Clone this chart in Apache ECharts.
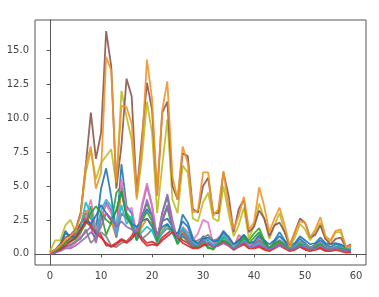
<!DOCTYPE html>
<html><head><meta charset="utf-8">
<script src="https://cdn.jsdelivr.net/npm/echarts@6/dist/echarts.min.js"></script>
<style>html,body{margin:0;padding:0;background:#fff}#c{width:379px;height:297px}</style>
</head><body><div id="c"></div>
<script>
const xTicks = [0,10,20,30,40,50,60];
const yTicks = [0,2.5,5,7.5,10,12.5,15];

const smallBlue1 = [0.1,0.3,0.6,1.7,1.2,1.5,2.2,3.0,2.6,1.8,4.8,6.3,4.2,1.6,6.6,3.5,3.0,1.5,2.7,3.3,2.8,1.2,2.4,2.6,2.0,1.1,2.9,2.3,1.2,0.6,1.3,1.0,0.6,1.0,1.5,1.0,0.4,0.9,1.2,0.5,0.8,1.2,0.9,0.4,0.9,1.3,0.9,0.4,0.7,1.1,0.8,0.4,0.7,1.0,0.7,0.5,0.7,0.6,0.4,0.5];
const smallOrange = [0.1,0.2,0.5,0.9,1.1,1.5,2.2,3.2,2.8,1.4,2.6,3.0,2.4,1.2,4.8,2.6,2.4,1.0,2.0,2.6,2.2,0.9,1.8,2.1,1.6,0.9,1.6,1.2,0.8,0.6,1.2,1.0,0.5,0.9,1.2,0.9,0.4,1.4,1.1,0.5,0.8,1.0,0.7,0.4,0.7,0.9,0.6,0.3,0.5,0.8,0.6,0.4,0.6,0.7,0.5,0.3,0.5,0.4,0.3,0.4];
const smallGreen1 = [0.1,0.2,0.5,0.9,1.0,1.3,1.8,2.4,3.5,1.8,3.0,2.5,2.2,4.5,5.0,3.0,2.5,1.2,2.8,3.7,2.8,1.0,3.0,4.2,2.0,0.8,1.5,1.0,0.7,0.5,1.0,0.5,0.3,0.8,1.2,1.0,0.4,0.8,1.4,1.0,1.5,1.9,1.0,0.4,0.8,1.0,0.7,0.3,0.5,0.8,0.6,0.3,0.6,0.8,0.5,0.3,0.5,0.5,0.3,0.4];
const smallRed1 = [0.1,0.2,0.4,0.8,1.2,1.6,2.2,2.7,2.2,1.7,1.4,0.6,0.6,0.8,1.1,0.9,1.3,2.0,1.2,0.8,0.9,0.7,1.2,1.5,1.8,1.4,1.0,0.8,0.5,0.5,0.7,0.8,0.6,0.7,0.9,0.7,0.4,0.6,0.8,0.5,0.5,0.6,0.4,0.3,0.5,0.7,0.5,0.3,0.4,0.6,0.4,0.3,0.4,0.5,0.3,0.3,0.4,0.3,0.2,0.2];
const smallPurple1 = [0.0,0.1,0.3,0.5,0.6,0.9,1.2,1.6,2.0,0.8,2.5,3.8,3.2,1.2,3.0,2.6,2.2,1.0,3.4,5.0,3.5,1.0,3.0,4.4,2.5,1.0,1.8,1.2,0.8,0.5,1.2,0.9,0.5,0.8,1.0,0.8,0.4,0.8,1.1,0.5,0.7,0.9,0.6,0.3,0.6,0.8,0.6,0.3,0.5,0.7,0.6,0.3,0.5,0.7,0.5,0.3,0.5,0.4,0.3,0.4];
const smallPink = [0.0,0.1,0.3,0.6,0.5,0.8,1.5,2.6,4.0,1.8,2.8,3.6,3.0,1.4,5.5,3.2,3.4,1.4,3.6,5.2,3.6,1.2,2.6,3.5,2.2,1.0,2.0,1.6,1.0,1.5,2.5,2.3,0.7,1.2,1.4,1.0,0.5,1.3,1.2,0.6,0.9,1.1,0.7,0.4,0.7,0.9,0.6,0.3,0.6,0.8,0.6,0.4,0.6,0.8,0.5,0.3,0.5,0.5,0.3,0.4];
const smallGray = [0.1,0.2,0.3,0.5,0.7,0.9,1.1,1.8,0.8,1.2,1.6,1.3,0.6,0.5,0.8,0.9,1.2,1.5,1.1,1.4,1.8,1.0,1.5,1.9,1.6,1.4,1.8,1.3,0.8,1.0,1.2,1.4,1.0,1.1,1.6,1.3,0.7,1.0,1.3,0.8,0.8,1.0,0.7,0.5,0.7,1.0,0.7,0.4,0.6,0.9,0.7,0.5,0.6,0.8,0.6,0.4,0.5,0.6,0.3,0.6];
const smallCyan = [0.1,0.2,0.4,0.8,1.0,1.4,2.0,3.8,3.0,1.2,3.2,4.0,3.5,1.4,3.6,2.2,2.8,1.0,1.6,2.0,1.7,0.8,1.6,2.2,1.5,0.8,1.9,1.5,0.9,0.5,0.9,1.0,0.6,0.9,1.3,0.9,0.4,0.8,1.0,0.5,0.6,0.8,0.6,0.3,0.6,0.9,0.6,0.3,0.5,0.8,0.6,0.3,0.5,0.7,0.5,0.3,0.5,0.5,0.3,0.4];
const smallBlue2 = [0.1,0.3,0.7,1.5,1.3,1.2,1.8,2.5,2.2,2.8,3.6,3.0,2.5,3.2,4.6,2.8,2.2,2.0,2.4,2.6,2.0,1.5,2.0,2.2,1.7,1.5,2.4,2.0,1.0,0.8,1.1,1.2,0.9,1.0,1.7,1.2,0.7,1.0,1.4,0.8,0.9,1.4,1.0,0.7,1.0,1.6,1.0,0.6,0.8,1.3,1.0,0.7,0.8,1.2,0.8,0.7,0.8,0.7,0.5,0.6];
const smallGreen2 = [0.0,0.2,0.4,0.8,0.9,1.1,1.6,2.2,3.0,3.5,3.0,1.4,2.3,3.2,4.6,2.8,2.0,1.0,2.4,3.1,2.4,0.9,2.4,3.4,1.8,0.7,1.3,0.9,0.6,0.5,0.9,0.4,0.4,0.7,1.0,0.8,0.3,0.7,1.2,0.8,1.2,1.6,0.8,0.4,0.7,0.9,0.6,0.3,0.4,0.7,0.5,0.3,0.5,0.7,0.4,0.3,0.4,0.4,0.3,0.3];
const smallRed2 = [0.0,0.1,0.3,0.6,0.9,1.2,1.8,2.4,2.0,1.5,1.2,0.8,0.5,0.7,1.0,0.8,1.1,1.6,1.0,0.6,0.7,0.6,1.0,1.3,1.6,1.2,0.8,0.6,0.4,0.4,0.6,0.7,0.5,0.6,0.8,0.6,0.3,0.5,0.7,0.4,0.4,0.5,0.3,0.2,0.4,0.6,0.4,0.2,0.3,0.5,0.3,0.2,0.3,0.4,0.2,0.2,0.3,0.2,0.1,0.1];
const smallPurple2 = [0.0,0.1,0.2,0.4,0.4,0.6,0.9,1.2,1.6,1.2,2.0,3.0,2.6,2.0,2.4,2.0,1.8,1.6,2.6,4.0,2.8,1.3,2.4,3.6,2.0,1.2,1.4,1.0,0.6,0.6,1.0,0.7,0.5,0.6,0.8,0.6,0.4,0.6,0.9,0.5,0.5,0.7,0.5,0.3,0.5,0.6,0.5,0.3,0.4,0.6,0.5,0.3,0.4,0.6,0.4,0.3,0.4,0.3,0.2,0.3];

const bigOlive = [0.2,1.0,1.0,2.1,2.5,1.6,3.0,6.0,7.6,5.5,6.7,7.2,7.7,5.0,12.0,10.1,8.4,4.0,7.0,11.2,8.9,3.0,6.5,9.9,4.0,3.0,6.5,6.0,2.6,2.4,3.8,4.5,2.6,2.4,5.0,3.0,1.3,2.1,3.4,1.1,2.1,3.7,2.6,1.1,2.1,3.0,1.6,0.5,1.2,2.2,1.8,1.0,1.6,2.3,1.1,0.9,1.6,1.6,0.5,0.5];
const bigBrown = [0.1,0.3,0.7,1.2,1.4,1.8,3.0,6.5,10.4,7.0,8.9,16.4,13.8,4.8,8.0,12.9,11.6,4.5,8.5,12.6,10.6,4.3,10.4,11.2,5.0,4.0,7.4,7.2,3.3,3.05,5.0,5.6,3.0,3.0,6.0,4.3,1.6,3.3,4.0,1.6,2.0,3.2,2.6,1.3,2.1,2.3,1.6,0.6,1.6,2.6,2.3,1.2,1.4,2.1,1.1,0.7,1.1,1.2,0.5,0.7];
const bigOrange = [0.1,0.3,0.6,1.0,1.3,1.7,2.8,6.5,7.9,4.8,6.0,14.5,13.5,5.2,10.9,10.8,9.6,4.2,7.8,14.3,11.4,4.3,10.6,12.7,5.7,4.0,7.9,6.7,3.05,3.2,6.0,6.0,2.8,3.3,6.1,3.5,1.8,2.8,4.2,1.8,2.3,4.9,3.5,1.6,2.6,3.4,2.1,0.6,1.6,2.4,2.3,1.2,1.8,2.7,1.3,1.0,1.7,1.8,0.5,0.6];

const seriesDefs = [
  [smallBlue1,'#1f77b4'],[smallOrange,'#ff7f0e'],[smallGreen1,'#2ca02c'],[smallRed1,'#d62728'],
  [smallPurple1,'#9467bd'],[smallPink,'#e377c2'],[smallGray,'#7f7f7f'],[smallCyan,'#17becf'],
  [smallBlue2,'#1f77b4'],[smallGreen2,'#2ca02c'],[smallRed2,'#d62728'],[smallPurple2,'#9467bd'],
  [bigOlive,'#bcbd22'],[bigBrown,'#8c564b'],[bigOrange,'#f0942a']
];

const chart = echarts.init(document.getElementById('c'), null, {renderer:'canvas'});
const font = 'DejaVu Sans';
chart.setOption({
  animation:false,
  backgroundColor:'#fff',
  grid:{left:35,right:13,top:20,bottom:32,show:true,borderColor:'#555',borderWidth:1,backgroundColor:'transparent'},
  xAxis:{type:'value',min:-2.95,max:61.95,
    axisLine:{show:true,lineStyle:{color:'#555'}},
    axisTick:{show:true,length:3.5,customValues:xTicks,lineStyle:{color:'#555'}},
    axisLabel:{customValues:xTicks,margin:6,fontSize:10,fontFamily:font,color:'#444'},
    splitLine:{show:false}},
  yAxis:{type:'value',min:-0.82,max:17.22,
    axisLine:{show:true,lineStyle:{color:'#555'}},
    axisTick:{show:true,length:3.5,customValues:yTicks,lineStyle:{color:'#555'}},
    axisLabel:{customValues:yTicks,margin:6,fontSize:10,fontFamily:font,color:'#444',formatter:v=>v.toFixed(1)},
    splitLine:{show:false}},
  series: seriesDefs.map(([d,c])=>({type:'line',data:d.map((v,i)=>[i,v]),showSymbol:false,
    lineStyle:{color:c,width:1.8,opacity:0.9},itemStyle:{color:c}}))
});
</script></body></html>
